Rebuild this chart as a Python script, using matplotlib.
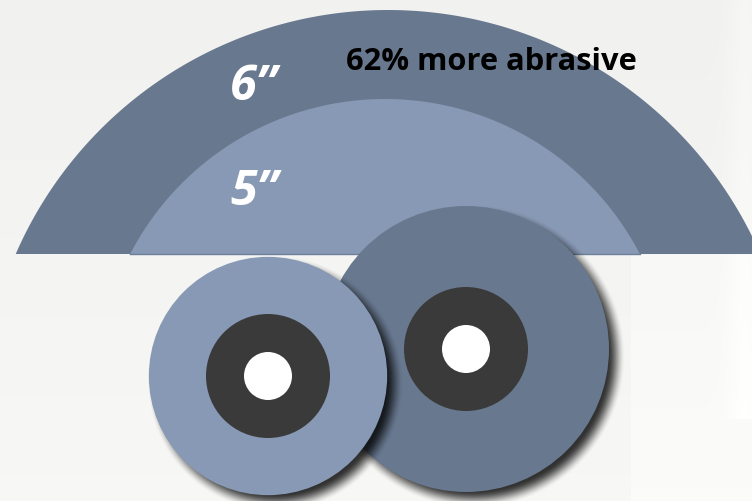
import numpy as np
import matplotlib
matplotlib.use("Agg")
import matplotlib.pyplot as plt
from matplotlib.patches import Circle, Polygon

# ---- data -------------------------------------------------------------
wheel_labels   = ["6\u201d", "5\u201d"]      # arch labels, outer -> inner
wheel_sizes_in = [6, 5]                      # wheel diameters (inches)
headline       = "62% more abrasive"

# ---- layout (pixel space, y grows downward) ----------------------------
W, H = 752, 502
BASE_Y = 255
ARCH_CENTERS = [(388, 417), (385, 387)]
ARCH_RADII   = [406, 287]
DISC_CENTERS = [(466, 350), (268, 377)]      # 6" disc, 5" disc
PX_PER_IN    = 143 / 6.0
HUB_R, HOLE_R = 62, 24

C_DARK  = "#68788f"
C_LIGHT = "#8899b5"
C_HUB   = "#3a3a3a"

fig = plt.figure(figsize=(W / 100, H / 100), dpi=100)
ax = fig.add_axes([0, 0, 1, 1])
ax.set_xlim(0, W)
ax.set_ylim(H, 0)
ax.set_aspect("equal")
ax.axis("off")

# background: soft vertical gradient plus faint lighter panels
yy, xx = np.mgrid[0:H, 0:W]
bg = 0.945 + 0.025 * (yy / H)
bg = bg + 0.015 * ((xx > 630) & (yy > BASE_Y))
bg = bg + 0.02 * np.exp(-((xx - 745) ** 2) / 300.0) * (yy < 420)
bg = np.clip(bg, 0, 1)
ax.imshow(np.dstack([bg, bg, bg * 0.995]), extent=(0, W, H, 0), zorder=0)


def segment(cx, cy, r):
    t0 = np.arcsin((cy - BASE_Y) / r)
    t = np.linspace(t0, np.pi - t0, 400)
    return np.column_stack([cx + r * np.cos(t), cy - r * np.sin(t)])


for (cx, cy), r, col, z in zip(ARCH_CENTERS, ARCH_RADII, [C_DARK, C_LIGHT], [1, 2]):
    ax.add_patch(Polygon(segment(cx, cy, r), closed=True, facecolor=col,
                         edgecolor="none", zorder=z))

# thin edge under the inner arch
cx, cy = ARCH_CENTERS[1]
hw = np.sqrt(ARCH_RADII[1] ** 2 - (cy - BASE_Y) ** 2)
ax.plot([cx - hw, cx + hw], [BASE_Y, BASE_Y], color="#6e7f99", lw=1, zorder=2.5)


def shadow(cx, cy, r, z, dx=7, dy=7, blur=9, strength=0.8):
    d = np.hypot(xx - (cx + dx), yy - (cy + dy)) - r
    a = np.clip(0.5 - d / (2 * blur), 0, 1)
    a = a * a * (3 - 2 * a) * strength
    rgba = np.zeros((H, W, 4))
    rgba[..., 3] = a
    ax.imshow(rgba, extent=(0, W, H, 0), zorder=z, interpolation="bilinear")


# discs: 6" behind, 5" in front
for i, (size, (cx, cy), col) in enumerate(zip(wheel_sizes_in, DISC_CENTERS,
                                               [C_DARK, C_LIGHT])):
    z = 3 + 2 * i
    r = size * PX_PER_IN
    shadow(cx, cy, r, z)
    ax.add_patch(Circle((cx, cy), r, facecolor=col, edgecolor="none", zorder=z + 0.5))
    ax.add_patch(Circle((cx, cy), HUB_R, facecolor=C_HUB, edgecolor="none", zorder=z + 0.6))
    ax.add_patch(Circle((cx, cy), HOLE_R, facecolor="white", edgecolor="none", zorder=z + 0.7))

# labels
for lab, y in zip(wheel_labels, [87, 193]):
    ax.text(254, y, lab, color="white", fontsize=35, fontweight="bold",
            fontstyle="italic", family=["Open Sans", "DejaVu Sans"],
            ha="center", va="center", zorder=10)

ax.text(491, 62, headline, color="black", fontsize=22.2, fontweight="bold",
        family=["Open Sans", "DejaVu Sans"], ha="center", va="center", zorder=10)

fig.savefig("out.png", dpi=100)
